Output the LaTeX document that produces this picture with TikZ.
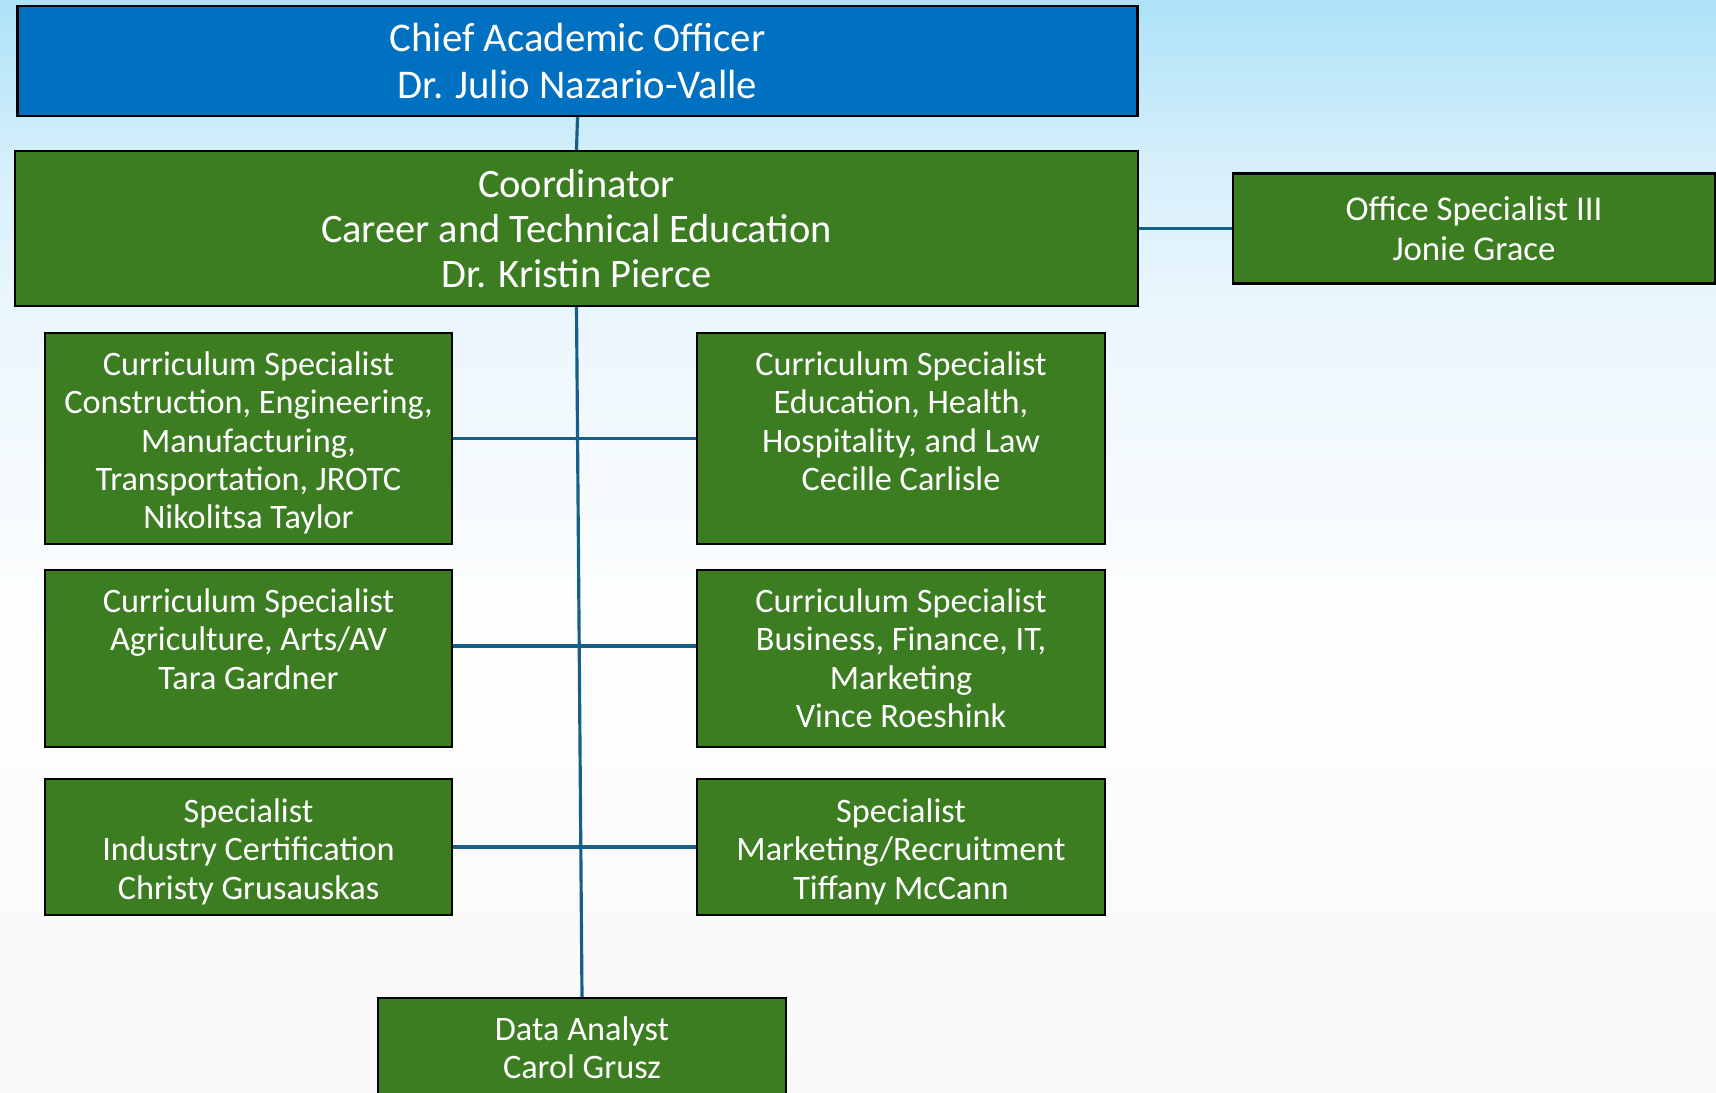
\documentclass[tikz,border=0pt]{standalone}
\usepackage{fontspec}
\setmainfont{Carlito}
\usetikzlibrary{positioning}
\definecolor{bgtop}{RGB}{173,226,248}
\definecolor{bgupper}{RGB}{214,239,250}
\definecolor{bgmid}{RGB}{234,246,253}
\definecolor{bglow}{RGB}{249,252,254}
\definecolor{bgwhite}{RGB}{254,254,254}
\definecolor{bgfoot}{RGB}{248,248,248}
\pgfdeclareverticalshading{pagebg}{100bp}{color(0bp)=(bgfoot); color(25bp)=(bgfoot); color(45bp)=(bgwhite); color(50bp)=(bglow); color(61bp)=(bgmid); color(67.5bp)=(bgupper); color(75bp)=(bgtop); color(100bp)=(bgtop)}
\definecolor{caoblue}{RGB}{0,112,192}
\definecolor{unitgreen}{RGB}{60,125,34}
\definecolor{linkblue}{RGB}{22,96,136}
\tikzset{
  unit/.style={draw=black, line width=1.2pt, fill=unitgreen, text=white, align=center, inner sep=0pt},
  lbl/.style={text=white, align=center, inner sep=0pt, anchor=north, font=\fontsize{19.5}{21.8}\selectfont},
  link/.style={draw=linkblue, line width=1.8pt},
}
\begin{document}
\begin{tikzpicture}
\useasboundingbox (0,0) rectangle (34.32,-21.84);
\shade[shading=pagebg] (0,0) rectangle (34.32,-21.84);
\node[unit, fill=caoblue, minimum width=22.4cm, minimum height=2.2cm, font=\fontsize{23.2}{26.2}\selectfont] (cao) at (11.55,-1.22) {Chief Academic Officer\\Dr. Julio Nazario-Valle};
\node[unit, minimum width=22.46cm, minimum height=3.1cm, font=\fontsize{23}{25.6}\selectfont] (coord) at (11.53,-4.57) {Coordinator\\Career and Technical Education\\Dr. Kristin Pierce};
\node[unit, minimum width=9.64cm, minimum height=2.2cm, font=\fontsize{19.8}{22.4}\selectfont] (office) at (29.48,-4.57) {Office Specialist III\\Jonie Grace};
\node[unit, minimum width=8.14cm, minimum height=4.22cm] (cs1) at (4.97,-8.77) {};
\node[unit, minimum width=8.16cm, minimum height=4.22cm] (cs2) at (18.02,-8.77) {};
\node[unit, minimum width=8.14cm, minimum height=3.54cm] (cs3) at (4.97,-13.17) {};
\node[unit, minimum width=8.16cm, minimum height=3.54cm] (cs4) at (18.02,-13.17) {};
\node[unit, minimum width=8.14cm, minimum height=2.72cm] (sp1) at (4.97,-16.94) {};
\node[unit, minimum width=8.16cm, minimum height=2.72cm] (sp2) at (18.02,-16.94) {};
\node[unit, minimum width=8.16cm, minimum height=2.6cm, anchor=north] (data) at (11.64,-19.94) {};
\node[lbl] (cs1txt) at ([yshift=-0.39cm]cs1.north) {Curriculum Specialist\\Construction, Engineering,\\Manufacturing,\\Transportation, JROTC\\Nikolitsa Taylor};
\node[lbl] (cs2txt) at ([yshift=-0.39cm]cs2.north) {Curriculum Specialist\\Education, Health,\\Hospitality, and Law\\Cecille Carlisle};
\node[lbl] (cs3txt) at ([yshift=-0.39cm]cs3.north) {Curriculum Specialist\\Agriculture, Arts/AV\\Tara Gardner};
\node[lbl] (cs4txt) at ([yshift=-0.39cm]cs4.north) {Curriculum Specialist\\Business, Finance, IT,\\Marketing\\Vince Roeshink};
\node[lbl] (sp1txt) at ([yshift=-0.41cm]sp1.north) {Specialist\\Industry Certification\\Christy Grusauskas};
\node[lbl] (sp2txt) at ([yshift=-0.41cm]sp2.north) {Specialist\\Marketing/Recruitment\\Tiffany McCann};
\node[lbl] (datatxt) at ([yshift=-0.38cm]data.north) {Data Analyst\\Carol Grusz};
\draw[link] (cao.south) -- (coord.north);
\draw[link] (coord.south) -- (data.north);
\draw[link] (coord.east) -- (office.west);
\draw[link] (cs1.east) -- (cs2.west);
\draw[link] ([yshift=0.25cm]cs3.east) -- ([yshift=0.25cm]cs4.west);
\draw[link] (sp1.east) -- (sp2.west);
\end{tikzpicture}
\end{document}
